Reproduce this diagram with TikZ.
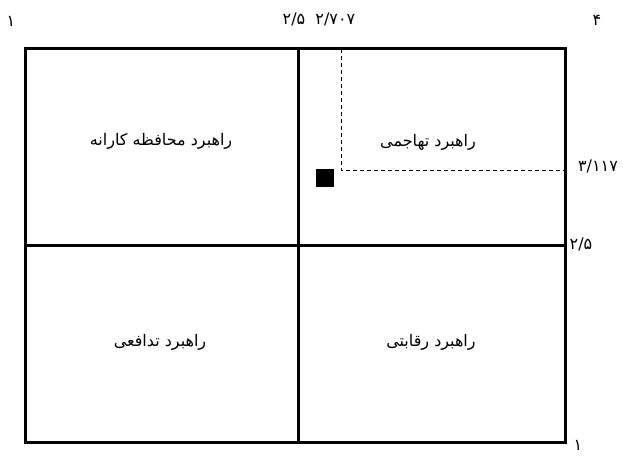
\documentclass[tikz,border=0pt]{standalone}
\usepackage{fontspec}
\TeXXeTstate=1
\newfontfamily\arabicfont[Script=Arabic]{DejaVu Sans}
\begin{document}
\begin{tikzpicture}[x=1pt,y=-1pt,
  frame/.style={line width=3pt},
  guide/.style={line width=0.9pt,dash pattern=on 4pt off 3pt},
  cell/.style={font=\arabicfont\fontsize{16}{18}\selectfont,inner sep=0pt},
  num/.style={font=\arabicfont\fontsize{16}{18}\selectfont,inner sep=0pt}]
\useasboundingbox (0,0) rectangle (623,457);
\coordinate (tl) at (25,49);
\coordinate (br) at (565,442);
\coordinate (mt) at (298,49);
\coordinate (mb) at (298,442);
\coordinate (ml) at (25,245);
\coordinate (mr) at (565,245);
\coordinate (dt) at (341,49);
\coordinate (dc) at (341,170);
\coordinate (dr) at (565,170);
\draw[guide] (dt) -- (dc) -- (dr);
\draw[frame] (tl) rectangle (br);
\draw[frame] (mt) -- (mb);
\draw[frame] (ml) -- (mr);
\fill (316,169) rectangle (334,187);
\node[cell] (c1) at (161,141) {\beginR راهبرد محافظه کارانه\endR};
\node[cell] (c2) at (428,142) {\beginR راهبرد تهاجمی\endR};
\node[cell] (c3) at (160,342) {\beginR راهبرد تدافعی\endR};
\node[cell] (c4) at (431,342) {\beginR راهبرد رقابتی\endR};
\node[num] (n1) at (11,21) {۱};
\node[num] (n2) at (319,19) {۲/۵\ \ ۲/۷۰۷};
\node[num] (n3) at (597,20) {۴};
\node[num] (n4) at (598,166) {۳/۱۱۷};
\node[num] (n5) at (581,244) {۲/۵};
\node[num] (n6) at (578,445) {۱};
\end{tikzpicture}
\end{document}
